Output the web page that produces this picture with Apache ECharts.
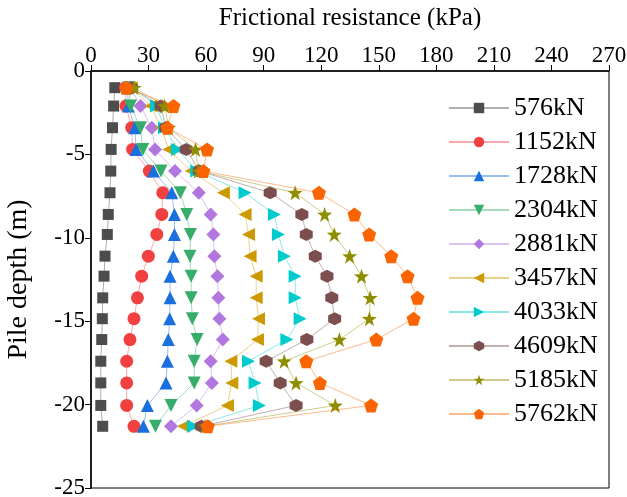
<!DOCTYPE html>
<html>
<head>
<meta charset="utf-8">
<script src="https://cdn.jsdelivr.net/npm/echarts@6/dist/echarts.min.js"></script>
<style>
  html, body { margin: 0; padding: 0; background: #fff; }
  #main { width: 627px; height: 497px; }
</style>
</head>
<body>
<div id="main"></div>
<script>
// depth of each measuring point (m, negative downward)
var depths = [-1.0, -2.1, -3.4, -4.7, -6.0, -7.3, -8.6, -9.8, -11.1, -12.3, -13.6, -14.85, -16.1, -17.4, -18.7, -20.05, -21.3];

var loads = ["576kN", "1152kN", "1728kN", "2304kN", "2881kN", "3457kN", "4033kN", "4609kN", "5185kN", "5762kN"];

// frictional resistance (kPa) per load, one value per depth
var f576  = [12.4, 11.8, 11.2, 10.5, 10.3, 9.9, 9.0, 8.5, 7.3, 6.8, 6.1, 5.9, 5.6, 5.1, 5.1, 5.1, 6.1];
var f1152 = [18.0, 18.2, 21.2, 21.7, 30.4, 37.4, 36.9, 34.3, 29.9, 26.4, 24.2, 22.4, 20.3, 18.6, 18.6, 18.6, 22.4];
var f1728 = [19.0, 19.5, 22.8, 23.5, 32.5, 42.1, 43.5, 43.5, 42.9, 41.2, 41.2, 41.0, 40.3, 39.8, 39.1, 29.4, 27.3];
var f2304 = [20.0, 20.6, 25.8, 27.0, 36.5, 46.6, 49.9, 51.8, 51.6, 52.2, 52.2, 52.8, 55.3, 53.8, 53.8, 41.7, 33.6];
var f2881 = [20.5, 25.8, 31.7, 33.4, 43.8, 56.2, 62.4, 63.8, 64.3, 65.9, 66.4, 66.9, 68.7, 62.4, 63.0, 55.1, 41.7];
var f3457 = [21.0, 31.2, 36.5, 40.5, 52.2, 69.0, 80.3, 82.1, 82.9, 86.1, 86.1, 87.3, 86.8, 72.9, 73.4, 71.1, 48.2];
var f4033 = [21.5, 34.1, 38.3, 45.1, 55.1, 80.3, 95.6, 97.7, 100.8, 106.4, 106.4, 109.0, 102.1, 82.1, 85.5, 87.8, 53.4];
var f4609 = [21.0, 36.5, 39.0, 49.6, 56.5, 93.4, 109.9, 112.2, 116.9, 123.0, 125.5, 127.0, 112.5, 91.3, 98.6, 106.9, 57.5];
var f5185 = [22.5, 38.4, 40.5, 54.5, 56.0, 106.4, 121.8, 126.8, 134.8, 141.0, 145.5, 145.1, 129.5, 100.7, 106.9, 127.3, 59.5];
var f5762 = [18.5, 43.0, 39.8, 60.5, 58.6, 118.8, 137.3, 145.0, 156.5, 165.0, 170.2, 168.1, 148.7, 112.2, 119.3, 146.0, 60.9];

var values = [f576, f1152, f1728, f2304, f2881, f3457, f4033, f4609, f5185, f5762];

var colors = ["#4d4d4d", "#f14040", "#1a6fdf", "#37ad6b", "#b177de", "#cc9900", "#00cbcc", "#7d4e4e", "#8e8e00", "#fb6501"];

var pentagon = "path://M50 0 L97.6 34.5 L79.4 90.5 L20.6 90.5 L2.4 34.5 Z";
var hexagon = "path://M50 0 L93.3 25 L93.3 75 L50 100 L6.7 75 L6.7 25 Z";
var star = "path://M50 0 L61.8 33.8 L97.6 34.5 L69 56.2 L79.4 90.5 L50 70 L20.6 90.5 L31 56.2 L2.4 34.5 L38.2 33.8 Z";

var symbols = ["rect", "circle", "triangle", "triangle", "diamond", "triangle", "triangle", hexagon, star, pentagon];
var rotates = [0, 0, 0, 180, 0, 90, -90, 0, 0, 0];
var sizes = [11, 13, 13, 13, 14, 13, 13, 13, 15, 14];

var fontFam = "Liberation Serif";

var series = loads.map(function(name, i) {
  return {
    name: name,
    type: "line",
    data: values[i].map(function(v, j) { return [v, depths[j]]; }),
    symbol: symbols[i],
    symbolRotate: rotates[i],
    symbolSize: sizes[i],
    itemStyle: { color: colors[i], opacity: 1 },
    lineStyle: { color: colors[i], width: 1, opacity: 0.45 },
    z: 2 + i
  };
});

var chart = echarts.init(document.getElementById("main"));
chart.setOption({
  animation: false,
  backgroundColor: "#fff",
  grid: {
    left: 91, right: 18, top: 71, bottom: 9,
    outerBoundsMode: "none",
    containLabel: false,
    show: true, borderColor: "#000", borderWidth: 1
  },
  xAxis: {
    type: "value",
    position: "top",
    min: 0, max: 270, interval: 30,
    name: "Frictional resistance (kPa)",
    nameLocation: "middle",
    nameGap: 40,
    nameTextStyle: { fontFamily: fontFam, fontSize: 25, color: "#000" },
    axisLine: { show: true, lineStyle: { color: "#000", width: 1.5 } },
    axisTick: { show: true, length: 6, lineStyle: { color: "#000" } },
    axisLabel: { fontFamily: fontFam, fontSize: 23, color: "#000", margin: 4 },
    splitLine: { show: false }
  },
  yAxis: {
    type: "value",
    min: -25, max: 0, interval: 5,
    name: "Pile depth (m)",
    nameLocation: "middle",
    nameGap: 58,
    nameTextStyle: { fontFamily: fontFam, fontSize: 28, color: "#000" },
    axisLine: { show: true, lineStyle: { color: "#000", width: 1.5 } },
    axisTick: { show: true, length: 6, lineStyle: { color: "#000" } },
    axisLabel: { fontFamily: fontFam, fontSize: 23, color: "#000", margin: 6 },
    splitLine: { show: false }
  },
  legend: {
    orient: "vertical",
    left: 443,
    top: 90,
    itemWidth: 60,
    itemHeight: 13,
    itemGap: 8,
    textStyle: { fontFamily: fontFam, fontSize: 26, color: "#000", lineHeight: 26 },
    data: loads
  },
  series: series
});
</script>
</body>
</html>
